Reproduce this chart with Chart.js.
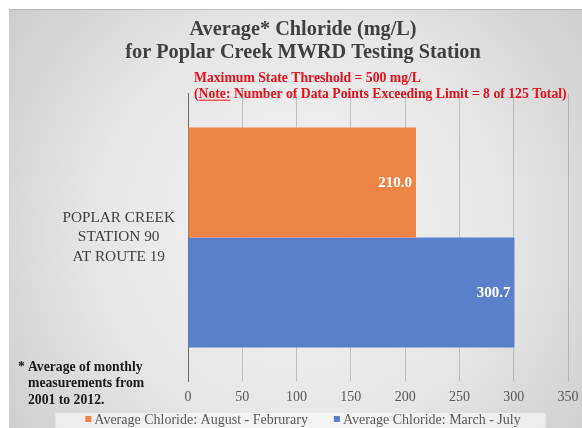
<!DOCTYPE html>
<html><head><meta charset="utf-8">
<script src="https://cdn.jsdelivr.net/npm/chart.js@4"></script>
<style>html,body{margin:0;padding:0;background:#fff}#wrap{width:582px;height:428px;position:relative}</style>
</head><body><div id="wrap"><canvas id="c"></canvas></div>
<script>
const categories = [['POPLAR CREEK', 'STATION 90', 'AT ROUTE 19']];
const seriesNames = ['Average Chloride: August - Februrary', 'Average Chloride: March - July'];
const augFebValues = [210.0];
const marJulValues = [300.7];
const xTickValues = [0, 50, 100, 150, 200, 250, 300, 350];
const titleLines = ['Average* Chloride (mg/L)', 'for Poplar Creek MWRD Testing Station'];
const noteLine1 = 'Maximum State Threshold = 500 mg/L';
const noteLine2Parts = ['(', 'Note:', ' Number of Data Points Exceeding Limit = 8 of 125 Total)'];
const footnoteLines = ['* Average of monthly', 'measurements from', '2001 to 2012.'];
const seriesColors = ['#EE8544', '#5A80CA'];

const SERIF = "'Liberation Serif', 'Times New Roman', serif";

const bgPlugin = {
  id: 'bg',
  beforeDraw(chart) {
    const {ctx, width, height} = chart;
    ctx.save();
    ctx.fillStyle = '#ffffff';
    ctx.fillRect(0, 0, width, height);
    const g = ctx.createRadialGradient(300, 230, 20, 300, 230, 360);
    g.addColorStop(0, '#f3f3f3');
    g.addColorStop(0.55, '#e6e6e6');
    g.addColorStop(1, '#cdcdcd');
    ctx.fillStyle = g;
    ctx.fillRect(9, 9, width - 9, height - 9);
    ctx.fillStyle = 'rgba(160,160,160,0.5)';
    ctx.fillRect(9, 9, width - 9, 1);
    ctx.restore();
  }
};

const textPlugin = {
  id: 'texts',
  afterDraw(chart) {
    const {ctx, chartArea} = chart;
    ctx.save();
    // value labels
    ctx.font = 'bold 15px ' + SERIF;
    ctx.fillStyle = '#ffffff';
    ctx.textAlign = 'right';
    ctx.textBaseline = 'middle';
    chart.data.datasets.forEach((ds, i) => {
      const meta = chart.getDatasetMeta(i);
      meta.data.forEach((el, j) => {
        ctx.fillText(ds.data[j].toFixed(1), el.x - 4, el.y + 1);
      });
    });
    // red notes
    ctx.font = 'bold 13.7px ' + SERIF;
    ctx.fillStyle = '#e8101c';
    ctx.strokeStyle = '#e8101c';
    ctx.textAlign = 'left';
    ctx.textBaseline = 'alphabetic';
    const l1y = chartArea.top - 12, l2y = chartArea.top + 4;
    ctx.fillText(noteLine1, chartArea.left + 6, l1y);
    let x = chartArea.left + 6;
    noteLine2Parts.forEach((p, i) => {
      ctx.fillText(p, x, l2y);
      const w = ctx.measureText(p).width;
      if (i === 1) {
        ctx.lineWidth = 1;
        ctx.beginPath();
        ctx.moveTo(x, l2y + 2.5);
        ctx.lineTo(x + w, l2y + 2.5);
        ctx.stroke();
      }
      x += w;
    });
    // footnote
    ctx.font = 'bold 13.7px ' + SERIF;
    ctx.fillStyle = '#1a1a1a';
    ctx.textBaseline = 'middle';
    footnoteLines.forEach((t, i) => {
      const y = chartArea.bottom - 14 + i * 16.5;
      if (i === 0 && t.startsWith('* ')) {
        ctx.fillText('*', 18, y);
        ctx.fillText(t.slice(2), 28, y);
      } else {
        ctx.fillText(t, 28, y);
      }
    });
    // legend
    const lgY = 420;
    ctx.font = '14px ' + SERIF;
    const tb = chart.titleBlock;
    const cx = tb.left + tb.width / 2;
    const box = 6, gapBox = 3, gapItem = 26;
    const items = chart.data.datasets.map(ds => ({label: ds.label, color: ds.backgroundColor, w: ctx.measureText(ds.label).width}));
    const total = items.reduce((s, it) => s + box + gapBox + it.w, 0) + gapItem * (items.length - 1);
    let lx = cx - total / 2;
    ctx.fillStyle = 'rgba(255,255,255,0.55)';
    ctx.fillRect(lx - 30, lgY - 7, total + 55, 428 - (lgY - 7));
    items.forEach(it => {
      ctx.fillStyle = it.color;
      ctx.fillRect(lx, lgY - 4, box, box);
      lx += box + gapBox;
      ctx.fillStyle = '#595959';
      ctx.fillText(it.label, lx, lgY);
      lx += it.w + gapItem;
    });
    ctx.restore();
  }
};

new Chart(document.getElementById('c'), {
  type: 'bar',
  data: {
    labels: categories,
    datasets: [
      {label: seriesNames[0], data: augFebValues, backgroundColor: seriesColors[0]},
      {label: seriesNames[1], data: marJulValues, backgroundColor: seriesColors[1]}
    ]
  },
  options: {
    indexAxis: 'y',
    responsive: true,
    maintainAspectRatio: false,
    animation: false,
    datasets: {bar: {barPercentage: 1.0, categoryPercentage: 0.765}},
    layout: {padding: {left: 27, right: 3, top: 9, bottom: 14}},
    plugins: {
      legend: {display: false},
      tooltip: {enabled: false},
      title: {
        display: true,
        text: titleLines,
        color: '#404040',
        font: {family: SERIF, size: 20.3, weight: 'bold', lineHeight: 1.15},
        padding: {top: 9, bottom: 29}
      }
    },
    scales: {
      x: {
        min: 0, max: 350,
        afterBuildTicks(scale) { scale.ticks = xTickValues.map(v => ({value: v})); },
        afterFit(scale) { scale.paddingRight = 14; },
        z: 1,
        grid: {color: 'rgba(110,110,110,0.35)', drawTicks: false, lineWidth: 1},
        border: {display: false},
        ticks: {font: {family: SERIF, size: 14}, color: '#595959', padding: 8}
      },
      y: {
        afterFit(scale) { scale.width = 161; },
        grid: {display: false, drawTicks: false},
        border: {display: true, color: '#6e6e6e', width: 1},
        ticks: {crossAlign: 'center', padding: 13, font: {family: SERIF, size: 15.3, lineHeight: 1.28}, color: '#404040'}
      }
    }
  },
  plugins: [bgPlugin, textPlugin]
});
</script>
</body></html>
